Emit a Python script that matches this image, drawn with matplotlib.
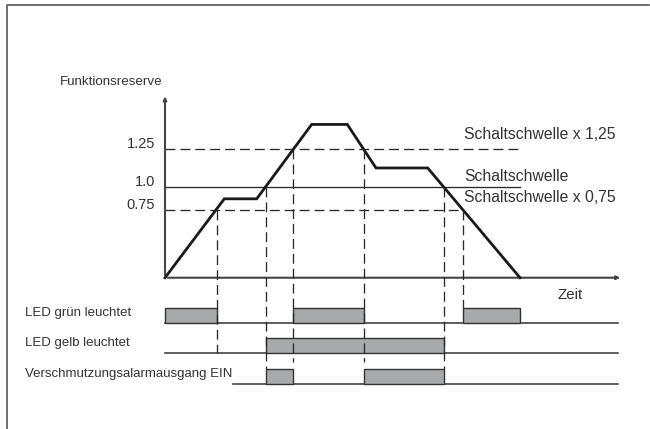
import matplotlib.pyplot as plt

plt.rcParams['font.family'] = ['Liberation Sans', 'DejaVu Sans']

# Funktionsreserve over time (schematic)
t_curve = [0, 5.93, 9.17, 14.67, 18.23, 21.1, 26.27, 35.5]
reserve = [0, 0.87, 0.87, 1.69, 1.69, 1.21, 1.21, 0]

# threshold lines: drawn height, tick label, right label
thr_height = [1.42, 1.0, 0.75]
thr_ticks = ["1.25", "1.0", "0.75"]
thr_names = ["Schaltschwelle x 1,25", "Schaltschwelle", "Schaltschwelle x 0,75"]

# switching times (crossings of the curve with the thresholds)
switch_t = [5.17, 10.07, 12.83, 19.87, 27.87, 29.8]
switch_level = [0.75, 1.0, 1.42, 1.42, 1.0, 0.75]

# on-intervals of the outputs
row_labels = ["LED grün leuchtet", "LED gelb leuchtet", "Verschmutzungsalarmausgang EIN"]
gruen_on = [(0, 5.17), (12.83, 19.87), (29.8, 35.5)]
gelb_on = [(10.07, 27.87)]
alarm_on = [(10.07, 12.83), (19.87, 27.87)]

fig = plt.figure(figsize=(6.5, 4.29), dpi=100)
ax = fig.add_axes([0, 0, 1, 1])
ax.set_xlim(-16.5, 48.5)
ax.set_ylim(-1.668, 3.062)
ax.axis('off')

dark = '#2b2b2b'
dash = (0, (7.5, 3.8))

# outer frame (left and top only visible)
ax.plot([0.0108, 0.0108, 0.999], [0.0, 0.9883, 0.9883], color='#555555', lw=1.2,
        transform=ax.transAxes, clip_on=False)

# axes with arrows
ax.annotate('', xy=(45.8, 0), xytext=(0, 0),
            arrowprops=dict(arrowstyle='-|>', color='#444444', lw=1.5, mutation_scale=5))
ax.annotate('', xy=(0, 2.03), xytext=(0, 0),
            arrowprops=dict(arrowstyle='-|>', color='#444444', lw=1.5, mutation_scale=5))

# threshold lines
ax.plot([0, 35.5], [thr_height[0]] * 2, color=dark, lw=0.95, ls=dash)
ax.plot([0, 35.5], [thr_height[1]] * 2, color=dark, lw=0.95)
ax.plot([0, 29.8], [thr_height[2]] * 2, color=dark, lw=0.95, ls=dash)

for h, lab in zip(thr_height, thr_ticks):
    ax.text(-1.0, h + 0.05, lab, ha='right', va='center', fontsize=10.5, color='#333333')

name_y = [1.58, 1.12, 0.886]
for y, lab in zip(name_y, thr_names):
    ax.text(29.9, y, lab, ha='left', va='center', fontsize=11.3, color='#333333')

# reserve curve
ax.plot(t_curve, reserve, color='#1a1a1a', lw=2.0, solid_joinstyle='miter', zorder=4)

ax.text(-10.5, 2.16, "Funktionsreserve", ha='left', va='center', fontsize=9.6, color='#333333')
ax.text(39.2, -0.19, "Zeit", ha='left', va='center', fontsize=10.8, color='#333333')

# timing rows
row_base = [-0.503, -0.834, -1.169]
box_h = 0.165
row_start = [0, 0, 6.8]
row_end = 45.3
for base, start, ivals, lab in zip(row_base, row_start, [gruen_on, gelb_on, alarm_on], row_labels):
    ax.plot([start, row_end], [base, base], color='#333333', lw=1.1, zorder=2)
    for a, b in ivals:
        ax.bar(a, box_h, width=b - a, bottom=base, align='edge',
               color='#a8a9ab', edgecolor='#333333', linewidth=1.0, zorder=3)
    ax.text(-14.0, base + 0.11, lab, ha='left', va='center', fontsize=9.5, color='#333333')

# vertical dashed guide lines
guide_bottom = [-0.83, -1.007, -0.93, -0.93, -1.007, -0.333]
for t, lv, bot in zip(switch_t, switch_level, guide_bottom):
    ax.plot([t, t], [lv, bot], color=dark, lw=0.95, ls=dash, zorder=5)

plt.savefig('out.png', dpi=100)
